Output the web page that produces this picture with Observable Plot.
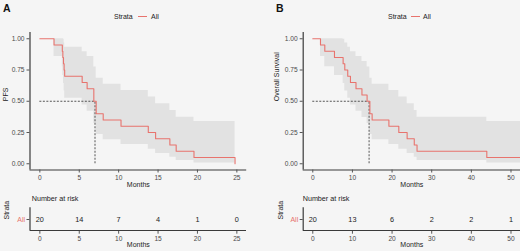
<!DOCTYPE html>
<html><head><meta charset="utf-8">
<script src="https://cdn.jsdelivr.net/npm/d3@7"></script>
<script src="https://cdn.jsdelivr.net/npm/@observablehq/plot@0.6"></script>
<style>
html,body{margin:0;padding:0;background:#f5f5f5;}
#wrap{position:relative;width:520px;height:251px;overflow:hidden;font-family:"Liberation Sans",Arial,sans-serif;color:#222;}
#wrap svg{position:absolute;}
.abs{position:absolute;white-space:nowrap;}
</style></head><body><div id="wrap"></div>
<script>
// ---- Panel A: PFS ----
const timesA = [0, 1.8, 2.85, 2.92, 3.0, 3.08, 3.15, 5.37, 6.0, 6.85, 7.15, 8.04, 10.3, 13.76, 14.69, 16.5, 17.3, 19.56, 24.77];
const survA  = [1, 0.95, 0.90, 0.85, 0.80, 0.75, 0.70, 0.65, 0.60, 0.50, 0.40, 0.35, 0.30, 0.25, 0.20, 0.15, 0.10, 0.05, 0];
const upperA = [1, 1, 1, 1, 0.996, 0.966, 0.933, 0.896, 0.858, 0.775, 0.684, 0.636, 0.586, 0.534, 0.480, 0.426, 0.372, 0.338, 0.338];
const lowerA = [1, 0.859, 0.777, 0.707, 0.643, 0.582, 0.525, 0.471, 0.420, 0.323, 0.234, 0.193, 0.154, 0.117, 0.083, 0.053, 0.027, 0.007, 0.007];
const medianA = 7.0;
const xTicksA = [0, 5, 10, 15, 20, 25];
const riskA = [20, 14, 7, 4, 1, 0];

// ---- Panel B: Overall survival ----
const timesB = [0, 1.94, 3.03, 5.47, 7.65, 8.07, 8.82, 9.5, 10.9, 12.4, 13.7, 14.4, 14.97, 19.2, 21.7, 23.8, 25.6, 26.3, 43.9, 52.4];
const survB  = [1, 0.95, 0.90, 0.85, 0.80, 0.75, 0.70, 0.65, 0.60, 0.55, 0.50, 0.40, 0.35, 0.30, 0.25, 0.20, 0.15, 0.10, 0.05, 0.05];
const upperB = [1, 1, 1, 1, 0.996, 0.966, 0.933, 0.896, 0.858, 0.818, 0.775, 0.684, 0.636, 0.586, 0.534, 0.480, 0.426, 0.372, 0.338, 0.338];
const lowerB = [1, 0.859, 0.777, 0.707, 0.643, 0.582, 0.525, 0.471, 0.420, 0.370, 0.323, 0.234, 0.193, 0.154, 0.117, 0.083, 0.053, 0.027, 0.007, 0.007];
const medianB = 14.2;
const xTicksB = [0, 10, 20, 30, 40, 50];
const riskB = [20, 13, 6, 2, 2, 1];

const yTicks = [0, 0.25, 0.5, 0.75, 1];
const strata = ["All"];

const FONT = '"Liberation Sans", Arial, sans-serif';
const RED = "#e8736d";
const BAND = "#e2e2e2";
const AXIS = "#3a3a3a";
const TXT = "#4a4a4a";

function mainPlot(o) {
  const rows = o.times.map((t, i) => ({t, s: o.surv[i], lo: o.lower[i], hi: o.upper[i]}));
  return Plot.plot({
    width: o.width, height: 192,
    marginLeft: o.marginLeft, marginRight: o.marginRight, marginTop: 32, marginBottom: 22.5,
    style: {background: "transparent", fontFamily: FONT, overflow: "visible"},
    x: {domain: o.xDomain, axis: null},
    y: {domain: [-0.05, 1.05], axis: null},
    marks: [
      Plot.areaY(rows, {x: "t", y1: "lo", y2: "hi", curve: "step-after", fill: BAND}),
      Plot.ruleY([{y: 0.5, x1: 0, x2: o.median}], {y: "y", x1: "x1", x2: "x2", stroke: "#444", strokeWidth: 0.9, strokeDasharray: "2,1.5"}),
      Plot.ruleX([{x: o.median, y1: 0, y2: 0.5}], {x: "x", y1: "y1", y2: "y2", stroke: "#444", strokeWidth: 0.9, strokeDasharray: "2,1.5"}),
      Plot.line(rows, {x: "t", y: "s", curve: "step-after", stroke: RED, strokeWidth: 1.1}),
      Plot.ruleX([o.xDomain[0]], {stroke: AXIS, strokeWidth: 1.2}),
      Plot.ruleY([-0.05], {stroke: AXIS, strokeWidth: 1.2}),
      Plot.axisX(o.xTicks, {tickSize: 3, tickPadding: 2.5, fontSize: 6.6, fill: TXT, stroke: "#555", label: null}),
      Plot.axisY(yTicks, {tickSize: 3, tickPadding: 2.5, fontSize: 6.6, fill: TXT, stroke: "#555", label: null, tickFormat: d => d.toFixed(2)}),
      Plot.text([o.yLabel], {frameAnchor: "left", rotate: -90, dx: o.yLabelDx, fontSize: 7, fill: "#222"}),
      Plot.text(["Months"], {frameAnchor: "bottom", dy: 17.2, fontSize: 7, fill: "#222"})
    ]
  });
}

function riskPlot(o) {
  const rows = o.ticks.map((t, i) => ({t, n: o.risk[i], g: strata[0]}));
  return Plot.plot({
    width: o.width, height: 61,
    marginLeft: o.marginLeft, marginRight: o.marginRight, marginTop: 17.3, marginBottom: 20.3,
    style: {background: "transparent", fontFamily: FONT, overflow: "visible"},
    x: {domain: o.xDomain, axis: null},
    y: {type: "point", domain: strata, axis: null},
    marks: [
      Plot.text(rows, {x: "t", y: "g", text: d => String(d.n), fontSize: 7.3, fill: "#222"}),
      Plot.ruleX([o.xDomain[0]], {stroke: AXIS, strokeWidth: 1.2}),
      Plot.frame({stroke: "none"}),
      Plot.axisX(o.ticks, {tickSize: 3, tickPadding: 2, fontSize: 6.6, fill: TXT, stroke: "#555", label: null}),
      Plot.axisY(strata, {tickSize: 3, tickPadding: 2, fontSize: 7, fill: RED, stroke: "#555", label: null}),
      Plot.text(["Strata"], {frameAnchor: "left", rotate: -90, dx: o.yLabelDx, fontSize: 7, fill: "#222"}),
      Plot.text(["Months"], {frameAnchor: "bottom", dy: 15.8, fontSize: 7, fill: "#222"})
    ]
  });
}

const wrap = document.getElementById("wrap");
function place(el, left, top) { el.style.left = left + "px"; el.style.top = top + "px"; wrap.appendChild(el); }
function label(text, left, top, size, extra) {
  const d = document.createElement("div");
  d.className = "abs"; d.textContent = text;
  d.style.fontSize = size + "px"; d.style.lineHeight = size + "px";
  if (extra) Object.assign(d.style, extra);
  place(d, left, top);
}
function legendLine(left, top) {
  const d = document.createElement("div");
  d.className = "abs";
  Object.assign(d.style, {width: "9px", height: "1.2px", background: RED});
  place(d, left, top);
}

// risk tables need an x-axis line: draw with ruleY at the bottom through a thin axis helper
function riskWithBase(o) {
  const p = riskPlot(o);
  return p;
}

const xDomA = [-1.25, 26.25];
const xDomB = [-2.42, 52.4];

const mA = mainPlot({times: timesA, surv: survA, lower: lowerA, upper: upperA, median: medianA,
  xDomain: xDomA, xTicks: xTicksA, yLabel: "PFS", width: 250, marginLeft: 29.5, marginRight: 3.8, yLabelDx: -23.8});
place(mA, 0, 0);
const mB = mainPlot({times: timesB, surv: survB, lower: lowerB, upper: upperB, median: medianB,
  xDomain: xDomB, xTicks: xTicksB, yLabel: "Overall Survival", width: 260, marginLeft: 42.7, marginRight: 0, yLabelDx: -26});
place(mB, 260, 0);

const rA = riskPlot({ticks: xTicksA, risk: riskA, xDomain: xDomA, width: 250, marginLeft: 29.5, marginRight: 3.8, yLabelDx: -22.8});
place(rA, 0, 190);
const rB = riskPlot({ticks: xTicksB, risk: riskB, xDomain: xDomB, width: 260, marginLeft: 42.7, marginRight: 0, yLabelDx: -22});
place(rB, 260, 190);

// bottom axis line of risk tables
for (const [svgHost, left, w] of [[0, 29.5, 216.7], [260, 302.7, 217.3]]) {
  const d = document.createElement("div");
  d.className = "abs";
  Object.assign(d.style, {width: w + "px", height: "1.2px", background: AXIS});
  place(d, left, 230.1);
}

label("A", 3, 2.5, 10.5, {fontWeight: "bold", color: "#111"});
label("B", 276, 2.5, 10.5, {fontWeight: "bold", color: "#111"});
label("Strata", 114, 12.5, 7);
legendLine(138, 15.5);
label("All", 151, 12.5, 7);
label("Strata", 388, 12.5, 7);
legendLine(411, 15.5);
label("All", 423, 12.5, 7);
label("Number at risk", 31.7, 195.4, 7.2);
label("Number at risk", 302.7, 194.8, 7.2);
</script></body></html>
